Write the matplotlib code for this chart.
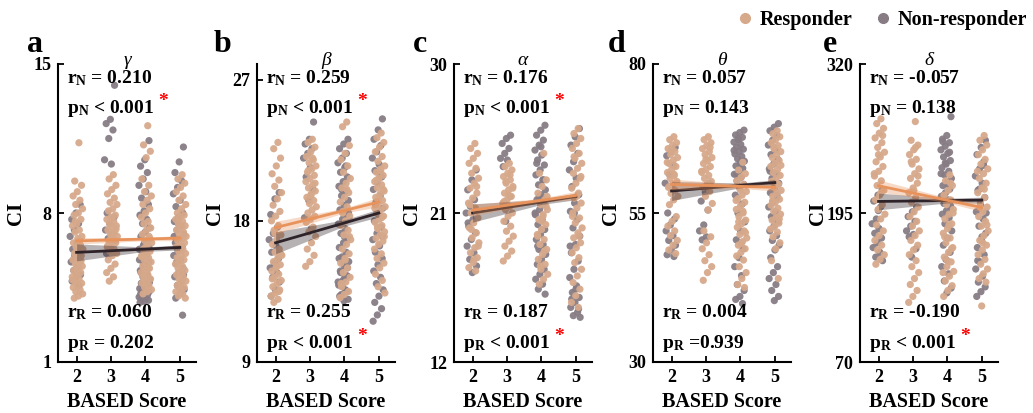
import numpy as np
import matplotlib
matplotlib.use('Agg')
import matplotlib.pyplot as plt
from matplotlib.lines import Line2D

plt.rcParams['font.family'] = ['Liberation Serif', 'DejaVu Serif']
plt.rcParams['font.weight'] = 'bold'
plt.rcParams['mathtext.fontset'] = 'custom'
plt.rcParams['mathtext.rm'] = 'Liberation Serif:bold'
plt.rcParams['mathtext.it'] = 'Liberation Serif:italic:bold'
plt.rcParams['mathtext.bf'] = 'Liberation Serif:bold'

# ---------------- data ----------------
scores = [2, 3, 4, 5]
panel_letters = ['a', 'b', 'c', 'd', 'e']
band_names = ['γ', 'β', 'α', 'θ', 'δ']
y_ticks = [[1, 8, 15], [9, 18, 27], [12, 21, 30], [30, 55, 80], [70, 195, 320]]

r_N = ['0.210', '0.259', '0.176', '0.057', '-0.057']
p_N = ['< 0.001', '< 0.001', '< 0.001', '= 0.143', '= 0.138']
sig_N = [True, True, True, False, False]
r_R = ['0.060', '0.255', '0.187', '0.004', '-0.190']
p_R = ['= 0.202', '< 0.001', '< 0.001', '=0.939', '< 0.001']
sig_R = [False, True, True, False, True]

# fitted line values at score 2 and 5, CI half-width at scores 2, 4, 5
fit_R = [(6.69, 6.82), (17.57, 19.2), (21.17, 22.06), (59.8, 59.3), (217.8, 199.6)]
fit_N = [(6.15, 6.38), (16.6, 18.5), (21.0, 22.0), (58.7, 60.1), (204.7, 205.8)]
ci_R = [(0.15, 0.08, 0.12), (0.4, 0.15, 0.3), (0.35, 0.12, 0.25), (0.9, 0.35, 0.6), (5, 2, 3.5)]
ci_N = [(0.4, 0.1, 0.12), (0.7, 0.2, 0.25), (0.55, 0.15, 0.2), (1.6, 0.4, 0.5), (7, 2, 2.5)]

# gamma
gamma_R = {
    2: [11.3, 9.5, 9.3, 9.0, 8.8, 8.6, 8.4, 8.2, 8.0, 7.9, 7.7, 7.5, 7.4, 7.2, 7.1, 6.9, 6.8, 6.6, 6.5, 6.4, 6.3, 6.2, 6.1, 6.0, 5.9, 5.8, 5.7, 5.6, 5.5, 5.4, 5.3, 5.2, 5.1, 5.0, 4.9, 4.8, 4.7, 4.6, 4.5, 4.4, 4.3, 4.2, 4.1, 4.0, 5.75, 5.25, 4.85, 6.7, 7.6],
    3: [9.8, 9.6, 9.3, 9.1, 8.9, 8.7, 8.5, 8.4, 8.2, 8.1, 7.9, 7.8, 7.7, 7.6, 7.5, 7.4, 7.3, 7.2, 7.1, 7.0, 6.9, 6.8, 6.7, 6.6, 6.5, 6.4, 6.3, 6.2, 6.1, 6.0, 5.8, 5.6, 5.4, 5.2, 5.0, 4.8, 7.25, 6.85, 6.45],
    4: [12.1, 11.2, 10.9, 10.6, 9.6, 9.3, 9.0, 8.8, 8.6, 8.4, 8.2, 8.0, 7.8, 7.6, 7.5, 7.3, 7.2, 7.0, 6.9, 6.7, 6.6, 6.5, 6.3, 6.2, 6.1, 6.0, 5.9, 5.8, 5.7, 5.6, 5.5, 5.4, 5.3, 5.2, 5.1, 5.0, 4.9, 4.8, 4.7, 4.6, 4.5, 4.4, 4.3, 4.2, 6.8, 6.4, 5.95, 5.45, 4.95],
    5: [9.8, 9.6, 9.4, 9.2, 9.0, 8.8, 8.6, 8.4, 8.2, 8.0, 7.9, 7.8, 7.7, 7.6, 7.5, 7.4, 7.3, 7.2, 7.1, 7.0, 6.9, 6.8, 6.7, 6.6, 6.5, 6.4, 6.3, 6.2, 6.1, 6.0, 5.9, 5.8, 5.7, 5.6, 5.5, 5.4, 5.3, 5.2, 5.1, 5.0, 4.9, 4.8, 4.7, 4.6, 4.5, 4.4, 4.3, 4.2, 4.1, 4.0],
}
gamma_N = {
    2: [8.4, 8.0, 7.7, 7.5, 7.2, 6.9, 6.6, 6.3, 6.1, 5.9, 5.7, 5.5, 5.3, 5.1, 5.0, 4.8, 4.6, 6.0],
    3: [14.0, 12.4, 12.2, 11.9, 11.5, 10.5, 10.3, 8.0, 7.8, 7.5, 7.2, 7.0, 6.8, 6.7, 6.4, 6.1],
    4: [11.4, 10.5, 10.2, 9.9, 9.6, 9.3, 9.0, 8.7, 8.4, 8.1, 7.9, 7.7, 7.5, 7.3, 7.1, 6.9, 6.7, 6.5, 6.3, 6.1, 5.9, 5.7, 5.5, 5.3, 5.1, 5.0, 4.9, 4.8, 4.7, 4.6, 4.5, 4.45, 4.4, 4.35, 4.3, 4.25, 4.2, 4.15, 4.1, 4.05, 4.0, 3.95, 3.9, 3.85, 3.8, 4.55, 4.65, 4.75, 4.85, 5.2, 5.4, 5.6, 5.8, 6.0, 6.2, 6.4, 6.6],
    5: [11.1, 10.4, 9.9, 9.5, 9.2, 8.9, 8.6, 8.3, 8.0, 7.8, 7.6, 7.4, 7.2, 7.0, 6.8, 6.6, 6.4, 6.2, 6.0, 5.8, 5.6, 5.4, 5.2, 5.0, 4.8, 4.6, 4.4, 4.2, 4.0, 3.2, 7.5, 6.9, 6.3, 5.7, 5.1, 4.5],
}
# beta
beta_R = {
    2: [23.0, 22.6, 22.0, 21.5, 21.0, 20.6, 20.2, 19.8, 19.4, 19.0, 18.6, 18.3, 18.0, 17.7, 17.4, 17.1, 16.8, 16.5, 16.2, 16.0, 15.8, 15.6, 15.4, 15.2, 15.0, 14.8, 14.6, 14.4, 14.2, 14.0, 13.8, 13.6, 13.4, 13.2, 13.0, 12.8, 15.9, 15.1, 14.3, 13.5, 17.2],
    3: [23.2, 23.0, 22.7, 22.4, 22.1, 21.9, 21.7, 21.5, 21.3, 21.1, 20.9, 20.7, 20.5, 20.3, 20.1, 19.9, 19.7, 19.5, 19.3, 19.1, 18.9, 18.7, 18.5, 18.3, 18.1, 17.9, 17.6, 17.3, 17.0, 16.6, 16.2, 15.8, 15.4, 15.1, 22.0, 21.2, 20.4, 19.6],
    4: [24.3, 24.0, 22.8, 22.3, 21.9, 21.5, 21.1, 20.7, 20.4, 20.1, 19.8, 19.5, 19.2, 18.9, 18.6, 18.3, 18.0, 17.7, 17.4, 17.1, 16.8, 16.5, 16.2, 15.9, 15.6, 15.3, 15.0, 14.7, 14.4, 14.1, 13.8, 13.5, 13.3, 13.1, 20.0, 18.5, 17.0, 15.5, 14.0],
    5: [23.6, 23.3, 23.0, 22.7, 22.4, 22.1, 21.8, 21.5, 21.3, 21.1, 20.9, 20.7, 20.5, 20.3, 20.1, 19.9, 19.7, 19.5, 19.3, 19.1, 18.9, 18.7, 18.5, 18.3, 18.1, 17.9, 17.7, 17.5, 17.3, 17.1, 16.9, 16.7, 16.5, 16.2, 15.9, 15.6, 15.3, 15.0, 14.6, 14.2, 13.8, 13.4, 21.2, 20.6, 20.0, 19.4, 18.8, 18.2, 17.6, 17.0],
}
beta_N = {
    2: [19.8, 19.4, 18.4, 17.6, 17.2, 16.8, 16.4, 16.0, 15.6, 15.3, 15.0, 14.7, 14.4, 14.1, 13.6, 13.2],
    3: [24.3, 23.2, 22.9, 22.6, 22.3, 22.0, 21.4, 20.8, 20.0, 19.3, 18.2, 17.5],
    4: [23.2, 22.9, 22.6, 22.3, 22.0, 21.7, 21.4, 21.1, 20.8, 20.5, 20.2, 19.9, 19.6, 19.3, 19.0, 18.7, 18.4, 18.1, 17.8, 17.5, 17.2, 16.9, 16.6, 16.3, 16.0, 15.7, 15.4, 15.1, 14.8, 14.5, 14.2, 13.9, 13.6, 13.3, 13.0, 12.9, 13.2, 13.5, 13.8, 14.1, 14.4, 14.7, 15.0, 15.3, 15.6, 21.5, 20.0, 18.5, 17.0],
    5: [24.5, 23.8, 23.2, 22.8, 22.4, 22.0, 21.6, 21.2, 20.8, 20.4, 20.0, 19.6, 19.2, 18.8, 18.4, 18.0, 17.6, 17.2, 16.8, 16.4, 16.0, 15.6, 15.2, 14.8, 14.4, 14.0, 13.6, 13.2, 12.8, 12.4, 12.0, 11.6, 21.0, 19.0, 17.0],
}
# alpha
alpha_R = {
    2: [25.2, 24.9, 24.6, 24.3, 24.0, 23.7, 23.4, 23.1, 22.8, 22.5, 22.2, 21.9, 21.6, 21.3, 21.0, 20.7, 20.4, 20.1, 19.8, 19.5, 19.2, 18.9, 18.6, 18.3, 18.0, 17.7, 17.5, 20.0, 19.0, 18.2, 21.5, 22.6],
    3: [24.0, 23.8, 23.6, 23.4, 23.2, 23.0, 22.8, 22.6, 22.4, 22.2, 22.0, 21.8, 21.6, 21.4, 21.2, 21.0, 20.8, 20.5, 20.2, 19.9, 19.6, 19.3, 19.0, 18.7, 18.4, 18.1, 23.3, 22.9, 22.5, 22.1, 21.7],
    4: [24.6, 23.4, 23.0, 22.6, 22.2, 21.8, 21.5, 21.2, 20.9, 20.6, 20.3, 20.0, 19.7, 19.4, 19.1, 18.8, 18.5, 18.2, 17.9, 17.6, 17.3, 17.0, 16.7, 21.4, 20.5, 19.6, 18.7, 17.8, 22.0, 20.8],
    5: [26.1, 25.8, 25.5, 25.2, 24.9, 24.6, 24.3, 24.0, 23.7, 23.4, 23.1, 22.8, 22.5, 22.2, 21.9, 21.6, 21.3, 21.0, 20.7, 20.4, 20.1, 19.8, 19.5, 19.2, 18.9, 18.6, 18.3, 18.0, 17.6, 17.2, 16.8, 16.4, 16.0, 15.6, 15.3, 24.4, 23.2, 22.0, 20.8, 19.6],
}
alpha_N = {
    2: [23.6, 23.0, 22.4, 21.8, 21.4, 21.0, 20.6, 20.2, 19.8, 19.4, 19.0, 18.6, 18.2, 17.8, 17.4, 20.4],
    3: [25.7, 25.5, 25.2, 24.9, 24.6, 24.3, 24.2, 23.8, 22.0, 20.5],
    4: [26.3, 26.0, 25.7, 25.4, 25.1, 24.8, 24.5, 24.2, 23.9, 23.6, 23.3, 23.0, 22.7, 22.4, 22.1, 21.8, 21.5, 21.2, 20.9, 20.6, 20.3, 20.0, 19.7, 19.4, 19.1, 18.8, 18.5, 18.2, 17.9, 17.6, 17.3, 17.0, 16.7, 16.4, 16.1, 25.0, 24.0, 23.0, 22.0, 21.0, 20.0, 19.0],
    5: [26.1, 25.6, 25.1, 24.6, 24.1, 23.6, 23.1, 22.6, 22.1, 21.6, 21.1, 20.6, 20.1, 19.6, 19.1, 18.6, 18.1, 17.6, 17.1, 16.6, 16.2, 15.9, 15.6, 15.3, 15.0, 14.8, 14.7, 16.4, 15.8, 15.2, 21.0, 19.0],
}
# theta
theta_R = {
    2: [67.8, 67.3, 66.8, 66.3, 65.8, 65.3, 64.8, 64.3, 63.8, 63.3, 62.8, 62.3, 61.8, 61.3, 60.8, 60.3, 59.8, 59.3, 58.8, 58.3, 57.8, 57.2, 56.4, 54.4, 53.6, 52.8, 52.0, 51.2, 50.4, 49.6, 48.8, 48.2, 65.5, 63.5, 61.5, 59.5],
    3: [67.8, 67.3, 66.8, 66.3, 65.8, 65.3, 64.8, 64.3, 63.8, 63.3, 62.8, 62.3, 61.8, 61.3, 60.8, 60.3, 59.8, 59.3, 58.6, 57.8, 56.6, 55.5, 52.0, 51.0, 50.0, 49.0, 48.0, 47.0, 46.0, 45.0, 43.7, 66.0, 64.0, 62.0],
    4: [63.5, 62.2, 61.6, 61.0, 60.4, 59.8, 59.2, 58.6, 58.0, 57.4, 56.8, 56.2, 55.6, 55.0, 54.4, 53.8, 53.2, 52.6, 52.0, 51.4, 50.8, 50.2, 49.6, 49.0, 48.4, 47.8, 47.1, 46.0, 45.0, 44.0, 43.0, 42.5, 58.9, 57.1, 55.3, 53.5, 51.7, 49.9],
    5: [68.8, 68.3, 67.8, 67.3, 66.8, 66.3, 65.8, 65.3, 64.8, 64.3, 63.8, 63.3, 62.8, 62.3, 61.8, 61.3, 60.8, 60.3, 59.8, 59.3, 58.8, 58.3, 57.8, 57.3, 56.8, 56.3, 55.8, 55.3, 54.8, 54.3, 53.8, 53.3, 52.8, 52.3, 51.8, 51.0, 50.0, 49.0, 47.0, 44.0, 66.0, 63.0, 60.0, 57.0, 54.0],
}
theta_N = {
    2: [66.0, 65.3, 64.6, 63.0, 61.5, 60.0, 59.0, 55.0, 54.0, 53.0, 52.0, 51.2, 50.4, 49.6, 48.8, 48.0, 47.7],
    3: [60.0, 58.5, 57.0, 55.5, 53.0, 52.0, 51.0, 50.5],
    4: [68.9, 68.5, 68.1, 67.7, 67.3, 66.9, 66.5, 66.1, 65.7, 65.3, 64.9, 64.5, 64.1, 63.7, 63.3, 62.9, 62.5, 62.0, 61.5, 61.0, 60.4, 59.8, 59.4, 58.0, 56.5, 55.0, 53.5, 52.0, 50.5, 49.0, 47.5, 46.0, 44.5, 43.0, 42.0, 41.0, 40.5, 39.8, 67.5, 65.5, 63.5, 61.5],
    5: [70.0, 69.4, 68.8, 68.0, 67.2, 66.4, 65.6, 64.8, 64.0, 63.2, 62.4, 61.6, 60.8, 60.0, 59.2, 58.4, 57.6, 56.8, 56.0, 55.2, 54.4, 53.6, 52.8, 52.0, 51.2, 50.4, 49.6, 48.8, 47.5, 46.0, 45.0, 44.0, 43.0, 42.0, 41.0, 40.3, 62.0, 58.0, 54.0],
}
# delta
delta_R = {
    2: [274, 270, 266, 262, 258, 254, 250, 246, 242, 238, 234, 230, 226, 222, 218, 214, 210, 206, 202, 198, 194, 190, 185, 180, 176, 172, 168, 164, 160, 156, 152, 260, 244, 228, 212],
    3: [271.7, 256, 252, 248, 244, 240, 236, 232, 228, 224, 220, 216, 212, 208, 204, 200, 196, 192, 188, 184, 180, 176, 172, 168, 164, 160, 155, 150, 145, 140, 135, 130, 125, 120, 250, 238, 226, 214],
    4: [227, 222, 218, 214, 210, 206, 202, 198, 194, 190, 186, 182, 178, 174, 170, 166, 162, 158, 154, 150, 146, 142, 138, 134, 130, 125, 220, 205, 195, 185, 175, 165, 155, 145],
    5: [260, 256, 252, 248, 244, 240, 236, 232, 228, 224, 220, 216, 212, 208, 204, 200, 196, 192, 188, 184, 180, 176, 172, 168, 164, 160, 156, 152, 148, 144, 140, 137, 117, 230, 215, 200, 185, 170],
}
delta_N = {
    2: [215, 210, 205, 200, 190, 186, 182, 178, 174, 170, 166, 162, 158, 155, 197],
    3: [200, 196, 192, 188, 184, 180, 177, 175, 165, 158],
    4: [275.8, 260, 257, 254, 251, 248, 245, 242, 239, 236, 233, 230, 227, 224, 221, 218, 215, 212, 209, 206, 203, 200, 197, 194, 191, 186, 180, 174, 168, 162, 156, 150, 144, 138, 132, 128, 255, 246, 237, 228, 219, 210, 201],
    5: [256, 250, 244, 238, 232, 226, 220, 214, 208, 202, 196, 190, 184, 178, 172, 166, 160, 154, 148, 142, 137, 133, 129, 125, 235, 215, 195, 175, 155],
}

resp_data = [gamma_R, beta_R, alpha_R, theta_R, delta_R]
nonresp_data = [gamma_N, beta_N, alpha_N, theta_N, delta_N]

# ---------------- style ----------------
C_R = '#D7A98B'
C_N = '#877C84'
C_RL = '#E8935C'
C_NL = '#2E2329'
FW, FH = 1033, 413
ax_left_px = [58, 257, 454, 653, 860]
letter_x_px = [35, 222, 420, 617, 830]
ax_w_px = 138
ax_top_px, ax_bot_px = 64, 362
ylims = [(1, 15), (9, 28), (12, 30), (30, 80), (70, 320)]

fig = plt.figure(figsize=(FW / 100, FH / 100), dpi=100)


def jitter(n, width=0.32, phase=0.0):
    return np.array([(((i + 1) * 0.6180339887 + phase) % 1.0) - 0.5 for i in range(n)]) * width


for k in range(5):
    ax = fig.add_axes([ax_left_px[k] / FW, 1 - ax_bot_px / FH,
                       ax_w_px / FW, (ax_bot_px - ax_top_px) / FH])
    ax.set_xlim(1.46, 5.47)
    ax.set_ylim(*ylims[k])
    for s in scores:
        yn = np.array(nonresp_data[k][s])
        ax.scatter(s - 0.03 + jitter(len(yn), phase=0.3), yn, s=27, color=C_N,
                   edgecolors='none', alpha=0.95, zorder=2)
    for s in scores:
        yr = np.array(resp_data[k][s])
        ax.scatter(s + 0.03 + jitter(len(yr), phase=0.0), yr, s=27, color=C_R,
                   edgecolors='none', alpha=0.95, zorder=3)
    # fit lines with CI bands
    xb = np.array([2, 4, 5])
    for fit, ci, col, z in [(fit_N[k], ci_N[k], C_NL, 4), (fit_R[k], ci_R[k], C_RL, 5)]:
        slope = (fit[1] - fit[0]) / 3.0
        yc = fit[0] + slope * (xb - 2)
        ax.fill_between(xb, yc - np.array(ci), yc + np.array(ci), color=col,
                        alpha=0.35, linewidth=0, zorder=z)
        ax.plot([2, 5], fit, color=col, lw=2.0, zorder=z + 0.5)

    for sp in ['top', 'right']:
        ax.spines[sp].set_visible(False)
    for sp in ['left', 'bottom']:
        ax.spines[sp].set_linewidth(1.5)
    ax.set_xticks(scores)
    ax.set_yticks(y_ticks[k])
    ax.tick_params(direction='in', length=4, width=1.3, labelsize=13, pad=5)
    for lab in ax.get_xticklabels() + ax.get_yticklabels():
        lab.set_fontweight('bold')
    ax.set_xlabel('BASED Score', fontsize=14.5, fontweight='bold')
    ax.xaxis.set_label_coords(0.5, -0.100)
    ax.set_ylabel('CI', fontsize=15, fontweight='bold')
    ax.yaxis.set_label_coords(-0.235, 0.5)

    tx = 0.065
    fs = 14
    ax.text(tx, 0.936, r'r$_{\mathrm{N}}$ = ' + r_N[k], transform=ax.transAxes,
            fontsize=fs, fontweight='bold', va='baseline', zorder=10)
    ax.text(tx, 0.836, r'p$_{\mathrm{N}}$ ' + p_N[k], transform=ax.transAxes,
            fontsize=fs, fontweight='bold', va='baseline', zorder=10)
    ax.text(tx, 0.151, r'r$_{\mathrm{R}}$ = ' + r_R[k], transform=ax.transAxes,
            fontsize=fs, fontweight='bold', va='baseline', zorder=10)
    ax.text(tx, 0.047, r'p$_{\mathrm{R}}$ ' + p_R[k], transform=ax.transAxes,
            fontsize=fs, fontweight='bold', va='baseline', zorder=10)
    if sig_N[k]:
        ax.text(0.76, 0.875, '*', transform=ax.transAxes, color='red',
                fontsize=14, fontweight='bold', ha='center', va='center', zorder=10)
    if sig_R[k]:
        ax.text(0.76, 0.085, '*', transform=ax.transAxes, color='red',
                fontsize=14, fontweight='bold', ha='center', va='center', zorder=10)

    ax.text(0.5, 0.998, band_names[k], transform=ax.transAxes, fontsize=14,
            fontstyle='italic', fontweight='normal', ha='center', va='baseline')
    fig.text(letter_x_px[k] / FW, 1 - 52 / FH, panel_letters[k],
             fontsize=23, fontweight='bold', ha='center', va='baseline')

handles = [Line2D([], [], marker='o', ls='none', color=C_R, markersize=7),
           Line2D([], [], marker='o', ls='none', color=C_N, markersize=7)]
fig.legend(handles, ['Responder', 'Non-responder'], loc='upper right',
           bbox_to_anchor=(1.012, 1.02), ncol=2, frameon=False,
           prop={'weight': 'bold', 'size': 14.5}, handletextpad=0.25,
           columnspacing=1.0, handlelength=1.0)

fig.savefig('out.png', dpi=100)
